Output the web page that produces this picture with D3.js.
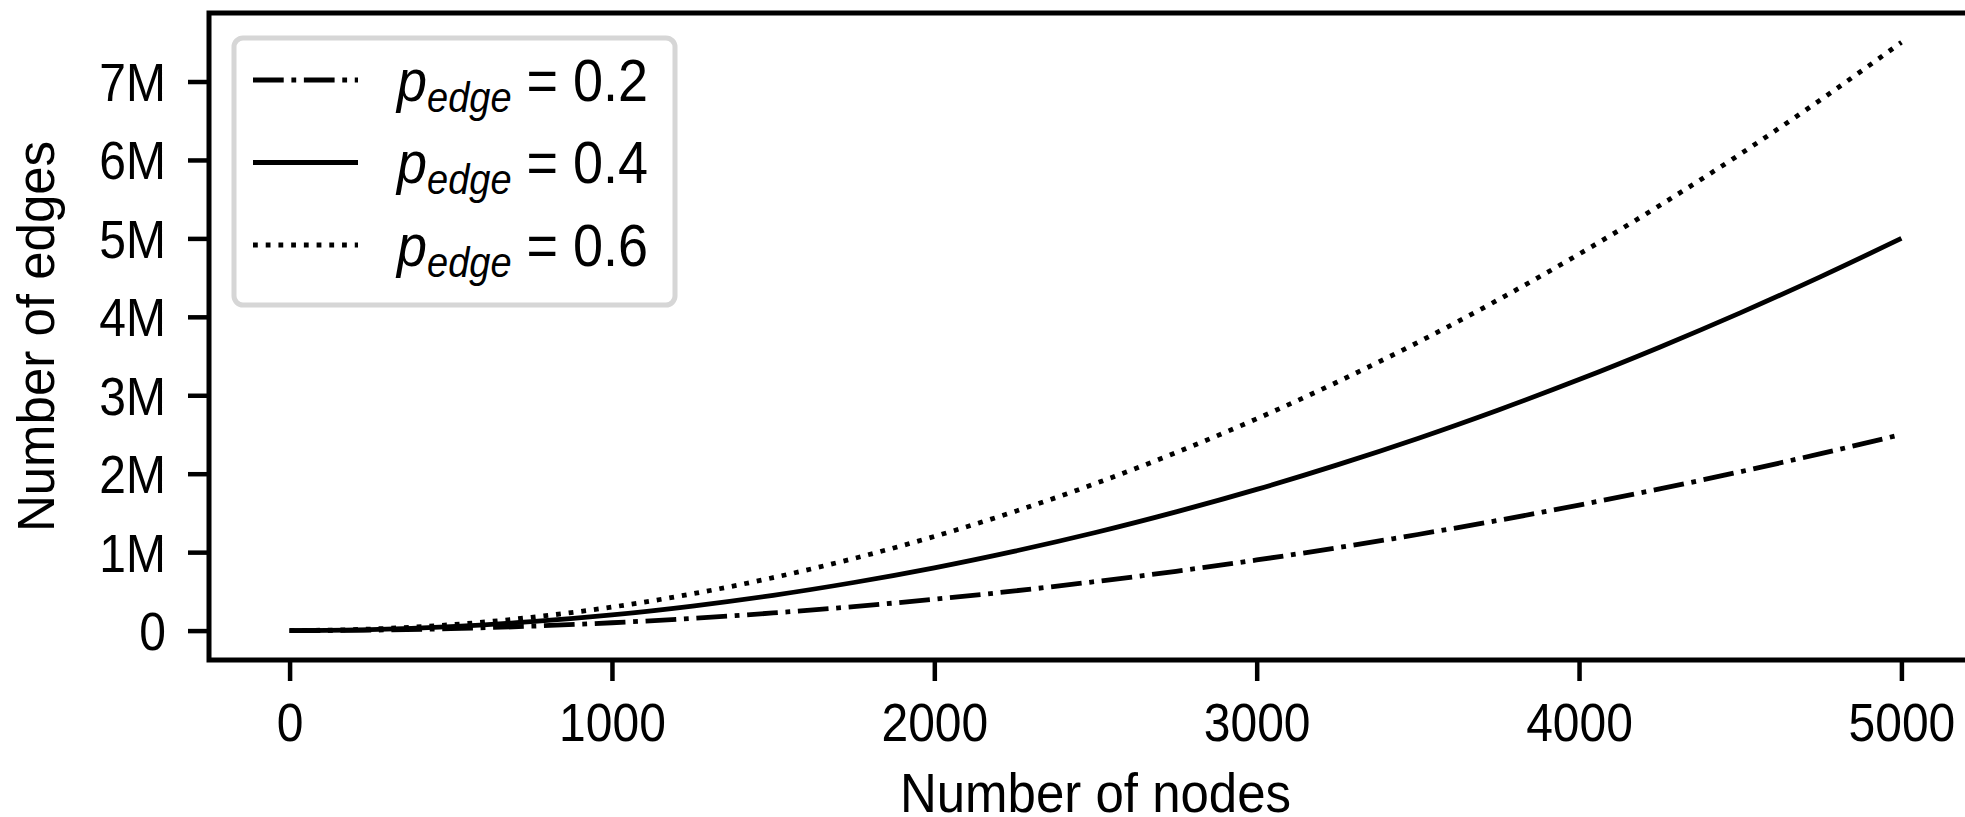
<!DOCTYPE html>
<html>
<head>
<meta charset="utf-8">
<script src="https://cdn.jsdelivr.net/npm/d3@7"></script>
<style>
  body { margin: 0; background: #fff; }
  text { font-family: "Liberation Sans", Arial, Helvetica, sans-serif; fill: #000; }
  /* the reference glyphs are a bit taller than Liberation Sans */
  text.tall { transform-box: fill-box; transform-origin: center; transform: scaleY(1.1); }
</style>
</head>
<body>
<svg width="1965" height="817"></svg>
<script>
// values (edges in millions)
var nodes = [0, 250, 500, 750, 1000, 1250, 1500, 1750, 2000, 2250, 2500,
             2750, 3000, 3250, 3500, 3750, 4000, 4250, 4500, 4750, 5000];
var edges02 = [0, 0.006, 0.025, 0.056, 0.1, 0.156, 0.225, 0.306, 0.4, 0.506, 0.625,
               0.756, 0.9, 1.056, 1.225, 1.406, 1.6, 1.806, 2.025, 2.256, 2.5];
var edges04 = [0, 0.013, 0.05, 0.113, 0.2, 0.313, 0.45, 0.613, 0.8, 1.013, 1.25,
               1.513, 1.8, 2.113, 2.45, 2.813, 3.2, 3.613, 4.05, 4.513, 5.0];
var edges06 = [0, 0.019, 0.075, 0.169, 0.3, 0.469, 0.675, 0.919, 1.2, 1.519, 1.875,
               2.269, 2.7, 3.169, 3.675, 4.219, 4.8, 5.419, 6.075, 6.769, 7.5];
var seriesLabels = ["0.2", "0.4", "0.6"];
var xTicks = [0, 1000, 2000, 3000, 4000, 5000];
var yTicks = [0, 1, 2, 3, 4, 5, 6, 7];

function drawChart() {
  var svg = d3.select("svg");
  var plotLeft = 209, plotRight = 1982, plotTop = 13, plotBottom = 660;
  var lw = 4.8;

  var x = d3.scaleLinear().domain([-250, 5250]).range([plotLeft, plotRight]);
  var y = d3.scaleLinear().domain([-0.375, 7.8735]).range([plotBottom, plotTop]);

  var series = [
    {label: seriesLabels[0], values: edges02, dash: [6.4 * lw, 1.6 * lw, 1 * lw, 1.6 * lw].join(",")},
    {label: seriesLabels[1], values: edges04, dash: null},
    {label: seriesLabels[2], values: edges06, dash: [1 * lw, 1.65 * lw].join(",")}
  ];

  var line = d3.line()
    .x(function(d, i) { return x(nodes[i]); })
    .y(function(d) { return y(d); })
    .curve(d3.curveMonotoneX);

  // curves
  svg.append("g").selectAll("path")
    .data(series)
    .enter()
    .append("path")
    .attr("d", function(s) { return line(s.values); })
    .attr("fill", "none")
    .attr("stroke", "#000")
    .attr("stroke-width", lw)
    .attr("stroke-dasharray", function(s) { return s.dash; });

  // axes
  var xAxis = svg.append("g")
    .attr("transform", "translate(0," + plotBottom + ")")
    .call(d3.axisBottom(x).tickValues(xTicks).tickSize(21).tickPadding(22).tickFormat(d3.format("d")));
  var yAxis = svg.append("g")
    .attr("transform", "translate(" + plotLeft + ",0)")
    .call(d3.axisLeft(y).tickValues(yTicks).tickSize(21).tickPadding(22)
      .tickFormat(function(d) { return d === 0 ? "0" : d + "M"; }));

  [xAxis, yAxis].forEach(function(a) {
    a.select(".domain").remove();
    a.selectAll(".tick line").attr("stroke", "#000").attr("stroke-width", 4.5);
    a.selectAll(".tick text").attr("class", "tall").style("font-size", "48px").attr("fill", "#000");
  });
  yAxis.selectAll(".tick text").attr("dy", "0.36em");
  xAxis.selectAll(".tick text").attr("dy", "0.75em");

  // spines (the right one falls outside the window)
  svg.append("rect")
    .attr("x", plotLeft).attr("y", plotTop)
    .attr("width", plotRight - plotLeft).attr("height", plotBottom - plotTop)
    .attr("fill", "none")
    .attr("stroke", "#000")
    .attr("stroke-width", 5);

  // axis labels
  svg.append("text")
    .attr("class", "tall")
    .attr("x", (plotLeft + plotRight) / 2)
    .attr("y", 810)
    .attr("text-anchor", "middle")
    .style("font-size", "51px")
    .text("Number of nodes");

  svg.append("text")
    .attr("transform", "translate(54," + (plotTop + plotBottom) / 2 + ") rotate(-90)")
    .attr("text-anchor", "middle")
    .style("font-size", "51px")
    .text("Number of edges");

  // legend
  var legend = svg.append("g");
  legend.append("rect")
    .attr("x", 234).attr("y", 38)
    .attr("width", 441).attr("height", 267)
    .attr("rx", 9)
    .attr("fill", "#fff")
    .attr("stroke", "#d6d6d6")
    .attr("stroke-width", 5);

  var rows = legend.selectAll("g.row")
    .data(series)
    .enter()
    .append("g")
    .attr("class", "row")
    .attr("transform", function(d, i) { return "translate(0," + (80 + i * 82.5) + ")"; });

  rows.append("line")
    .attr("x1", 253).attr("x2", 358)
    .attr("stroke", "#000")
    .attr("stroke-width", lw)
    .attr("stroke-dasharray", function(s) { return s.dash; });

  var lbl = rows.append("text")
    .attr("class", "tall")
    .attr("x", 397)
    .attr("y", 19)
    .style("font-size", "54px");
  lbl.append("tspan").style("font-style", "italic").text("p");
  lbl.append("tspan").style("font-style", "italic").style("font-size", "38px").attr("dy", 10).text("edge");
  lbl.append("tspan").attr("dy", -10).text(function(s) { return " = " + s.label; });
}

drawChart();
</script>
</body>
</html>
